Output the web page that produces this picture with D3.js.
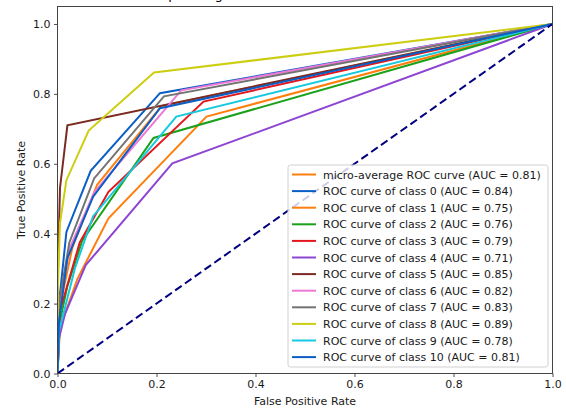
<!DOCTYPE html>
<html>
<head>
<meta charset="utf-8">
<script src="https://cdn.jsdelivr.net/npm/d3@7"></script>
<style>
  html, body { margin: 0; padding: 0; background: #fff; }
  svg { display: block; font-family: "DejaVu Sans", sans-serif; }
</style>
</head>
<body>
<svg id="chart" width="566" height="408"></svg>
<script>
// ROC curves: micro-average plus one curve per class
const curveLabels = [
  "micro-average ROC curve",
  "ROC curve of class 0", "ROC curve of class 1", "ROC curve of class 2",
  "ROC curve of class 3", "ROC curve of class 4", "ROC curve of class 5",
  "ROC curve of class 6", "ROC curve of class 7", "ROC curve of class 8",
  "ROC curve of class 9", "ROC curve of class 10"
];
const aucValues = [0.81, 0.84, 0.75, 0.76, 0.79, 0.71, 0.85, 0.82, 0.83, 0.89, 0.78, 0.81];
const curveColors = [
  "#ff7f0e", "#0b5ec6", "#ff7f0e", "#1ba11b", "#e3161c", "#8d45d2",
  "#7a2a20", "#ee78d6", "#737373", "#cdcd12", "#17c9de", "#0b5ec6"
];

// false positive rates per curve
const fprMicro = [0, 0.003, 0.03, 0.08, 0.21, 1];
const fprClass0 = [0, 0.003, 0.018, 0.067, 0.207, 1];
const fprClass1 = [0, 0.005, 0.04, 0.103, 0.301, 1];
const fprClass2 = [0, 0.005, 0.02, 0.05, 0.194, 1];
const fprClass3 = [0, 0.005, 0.045, 0.103, 0.295, 1];
const fprClass4 = [0, 0.003, 0.015, 0.057, 0.232, 1];
const fprClass5 = [0, 0.001, 0.005, 0.02, 1];
const fprClass6 = [0, 0.003, 0.025, 0.075, 0.25, 1];
const fprClass7 = [0, 0.003, 0.024, 0.074, 0.215, 1];
const fprClass8 = [0, 0.001, 0.005, 0.018, 0.063, 0.195, 1];
const fprClass9 = [0, 0.003, 0.035, 0.072, 0.24, 1];
const fprClass10 = [0, 0.003, 0.02, 0.072, 0.207, 1];

// true positive rates per curve
const tprMicro = [0, 0.18, 0.36, 0.54, 0.765, 1];
const tprClass0 = [0, 0.2, 0.405, 0.58, 0.802, 1];
const tprClass1 = [0, 0.13, 0.27, 0.444, 0.735, 1];
const tprClass2 = [0, 0.15, 0.25, 0.38, 0.674, 1];
const tprClass3 = [0, 0.18, 0.375, 0.52, 0.778, 1];
const tprClass4 = [0, 0.1, 0.17, 0.31, 0.601, 1];
const tprClass5 = [0, 0.3, 0.53, 0.71, 1];
const tprClass6 = [0, 0.2, 0.36, 0.52, 0.81, 1];
const tprClass7 = [0, 0.2, 0.375, 0.558, 0.793, 1];
const tprClass8 = [0, 0.25, 0.43, 0.553, 0.695, 0.861, 1];
const tprClass9 = [0, 0.12, 0.3, 0.45, 0.735, 1];
const tprClass10 = [0, 0.15, 0.33, 0.506, 0.759, 1];

const fprAll = [fprMicro, fprClass0, fprClass1, fprClass2, fprClass3, fprClass4,
  fprClass5, fprClass6, fprClass7, fprClass8, fprClass9, fprClass10];
const tprAll = [tprMicro, tprClass0, tprClass1, tprClass2, tprClass3, tprClass4,
  tprClass5, tprClass6, tprClass7, tprClass8, tprClass9, tprClass10];

const xTicks = [0, 0.2, 0.4, 0.6, 0.8, 1.0];
const yTicks = [0, 0.2, 0.4, 0.6, 0.8, 1.0];

const svg = d3.select("#chart");
const plot = { left: 57.5, right: 552.5, top: 6.5, bottom: 373.5 };
const fontSize = 11;

const x = d3.scaleLinear().domain([0, 1]).range([plot.left, plot.right]);
const y = d3.scaleLinear().domain([0, 1.05]).range([plot.bottom, plot.top]);

// title (sits above the visible area, only descenders show)
svg.append("text")
  .attr("x", 100).attr("y", -1)
  .attr("font-size", 13).attr("fill", "#000")
  .text("Receiver operating characteristic of the multi-class classifier");

const curves = svg.append("g").attr("clip-path", "url(#plotClip)");
svg.append("clipPath").attr("id", "plotClip")
  .append("rect")
  .attr("x", plot.left).attr("y", plot.top)
  .attr("width", plot.right - plot.left).attr("height", plot.bottom - plot.top);

const line = d3.line().x(d => x(d[0])).y(d => y(d[1]));

fprAll.forEach((fpr, i) => {
  const pts = fpr.map((f, k) => [f, tprAll[i][k]]);
  curves.append("path")
    .attr("d", line(pts))
    .attr("fill", "none")
    .attr("stroke", curveColors[i])
    .attr("stroke-width", 2)
    .attr("stroke-linejoin", "miter");
});

// chance diagonal
curves.append("path")
  .attr("d", line([[0, 0], [1, 1]]))
  .attr("fill", "none")
  .attr("stroke", "#000080")
  .attr("stroke-width", 2)
  .attr("stroke-dasharray", "8,4");

// axes
const xAxis = d3.axisBottom(x).tickValues(xTicks).tickFormat(d3.format(".1f")).tickSize(3.5).tickPadding(3.5);
const yAxis = d3.axisLeft(y).tickValues(yTicks).tickFormat(d3.format(".1f")).tickSize(3.5).tickPadding(3.5);

const gx = svg.append("g").attr("transform", `translate(0,${plot.bottom})`).call(xAxis);
const gy = svg.append("g").attr("transform", `translate(${plot.left},0)`).call(yAxis);
[gx, gy].forEach(g => {
  g.select(".domain").remove();
  g.selectAll("line").attr("stroke", "#222").attr("stroke-width", 0.8);
  g.selectAll("text").attr("font-size", fontSize).attr("fill", "#1a1a1a")
    .attr("font-family", "DejaVu Sans, sans-serif");
});

// frame
svg.append("rect")
  .attr("x", plot.left).attr("y", plot.top)
  .attr("width", plot.right - plot.left).attr("height", plot.bottom - plot.top)
  .attr("fill", "none").attr("stroke", "#444").attr("stroke-width", 1);

// axis labels
svg.append("text")
  .attr("x", (plot.left + plot.right) / 2).attr("y", 405)
  .attr("text-anchor", "middle").attr("font-size", fontSize).attr("fill", "#1a1a1a")
  .text("False Positive Rate");
svg.append("text")
  .attr("transform", `translate(25,${(plot.top + plot.bottom) / 2}) rotate(-90)`)
  .attr("text-anchor", "middle").attr("font-size", fontSize).attr("fill", "#1a1a1a")
  .text("True Positive Rate");

// legend
const legend = svg.append("g").attr("transform", "translate(288,165)");
const rowH = 16.6;
legend.append("rect")
  .attr("x", 0).attr("y", 0).attr("width", 260).attr("height", 202)
  .attr("rx", 2.5).attr("fill", "#fff").attr("fill-opacity", 0.8)
  .attr("stroke", "#d0d0d0").attr("stroke-width", 1);
curveLabels.forEach((lab, i) => {
  const cy = 9.5 + i * rowH;
  legend.append("line")
    .attr("x1", 4).attr("x2", 28).attr("y1", cy).attr("y2", cy)
    .attr("stroke", curveColors[i]).attr("stroke-width", 2);
  legend.append("text")
    .attr("x", 35).attr("y", cy + 4)
    .attr("font-size", fontSize).attr("fill", "#1a1a1a")
    .text(`${lab} (AUC = ${aucValues[i].toFixed(2)})`);
});
</script>
</body>
</html>
